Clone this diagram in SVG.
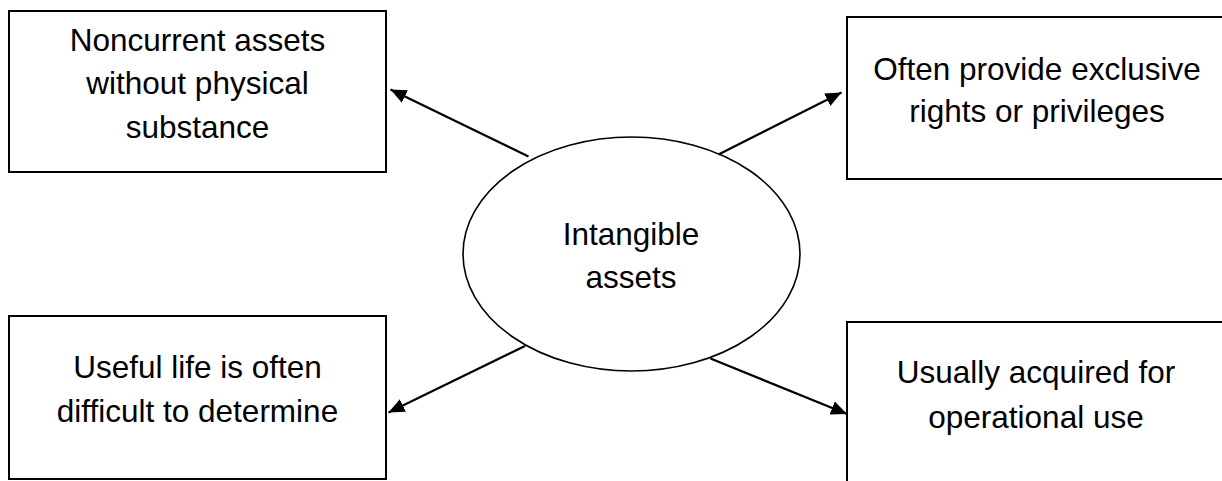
<svg xmlns="http://www.w3.org/2000/svg" width="1222" height="481" viewBox="0 0 1222 481">
  <style>
    .box { fill: #ffffff; stroke: #000000; stroke-width: 2; }
    .oval { fill: #ffffff; stroke: #000000; stroke-width: 1.6; }
    .label { font-family: "Liberation Sans", Arial, sans-serif; font-size: 31.5px; fill: #000000; text-anchor: middle; }
    .link { fill: none; stroke: #000000; stroke-width: 2.2; marker-end: url(#arrow); }
  </style>
  <defs>
    <marker id="arrow" markerUnits="userSpaceOnUse" markerWidth="18" markerHeight="14" refX="16" refY="7" orient="auto">
      <path d="M0,0 L16,7 L0,14 Z" fill="#000000"/>
    </marker>
  </defs>
  <rect width="1222" height="481" fill="#ffffff"/>

  <!-- central concept -->
  <g id="intangible-assets">
    <ellipse class="oval" cx="631.5" cy="254" rx="168.5" ry="117"/>
    <text class="label" x="631" y="245">Intangible</text>
    <text class="label" x="631" y="288">assets</text>
  </g>

  <!-- characteristics -->
  <g id="no-physical-substance">
    <rect class="box" x="9" y="11" width="377" height="161"/>
    <text class="label" x="197.5" y="51">Noncurrent assets</text>
    <text class="label" x="197.5" y="94">without physical</text>
    <text class="label" x="197.5" y="137.5">substance</text>
  </g>

  <g id="exclusive-rights">
    <rect class="box" x="847" y="17" width="390" height="162"/>
    <text class="label" x="1037" y="80">Often provide exclusive</text>
    <text class="label" x="1037" y="122">rights or privileges</text>
  </g>

  <g id="useful-life">
    <rect class="box" x="9" y="316" width="377" height="163"/>
    <text class="label" x="197.5" y="378">Useful life is often</text>
    <text class="label" x="197.5" y="421.5">difficult to determine</text>
  </g>

  <g id="operational-use">
    <rect class="box" x="847" y="322" width="390" height="170"/>
    <text class="label" x="1036" y="383">Usually acquired for</text>
    <text class="label" x="1036" y="428">operational use</text>
  </g>

  <!-- connectors from the centre outwards -->
  <g id="connectors">
    <line class="link" x1="528.5" y1="156.5" x2="390.5" y2="89.5"/>
    <line class="link" x1="718.5" y1="154.5" x2="841.5" y2="92.5"/>
    <line class="link" x1="525" y1="346" x2="388.5" y2="412.5"/>
    <line class="link" x1="710.5" y1="358.5" x2="847" y2="414"/>
  </g>
</svg>
